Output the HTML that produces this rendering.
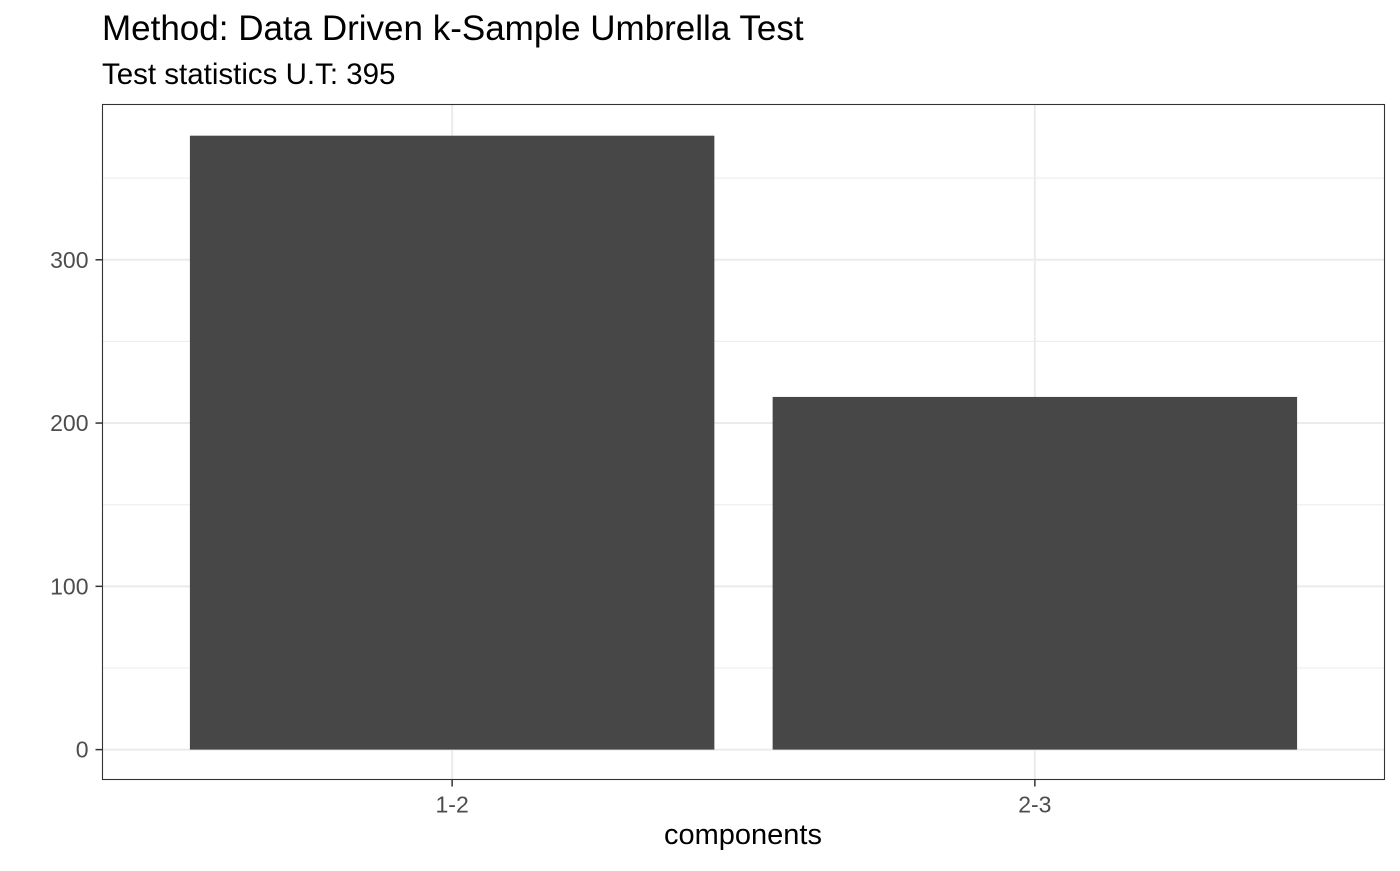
<!DOCTYPE html>
<html><head><meta charset="utf-8"><style>
body{margin:0;background:#fff;}
svg text{font-family:"Liberation Sans",Arial,sans-serif;}
</style></head><body>
<svg id="chart" width="1400" height="866" viewBox="0 0 1400 866" xmlns="http://www.w3.org/2000/svg">
<rect width="1400" height="866" fill="#fff"/>
<text x="102" y="40" font-size="35" fill="#000">Method: Data Driven k-Sample Umbrella Test</text>
<text x="102" y="84" font-size="29.5" fill="#000">Test statistics U.T: 395</text>
<g id="grid"></g>
<g id="bars"></g>
<g id="axes"></g>
<rect x="102.5" y="104.5" width="1282" height="675" fill="none" stroke="#333" stroke-width="1.1"/>
<text x="743" y="844" font-size="29" text-anchor="middle" fill="#000">components</text>
</svg>
<script>
const categories = ["1-2", "2-3"];
const values = [376, 216];
const yTicks = [0, 100, 200, 300];
const yMinor = [50, 150, 250, 350];

const ns = "http://www.w3.org/2000/svg";
const panelL = 102.5, panelR = 1384.5, panelT = 104.5, panelB = 779.5;
const yMin = -18.3, yMax = 395.1;
function y(v){ return panelB - (v - yMin) / (yMax - yMin) * (panelB - panelT); }
const band = (panelR - panelL) / (categories.length + 0.2);
function xc(i){ return panelL + band * (0.6 + i); }
const barW = band * 0.9;

function mk(tag, attrs, parent){
  const e = document.createElementNS(ns, tag);
  for (const k in attrs) e.setAttribute(k, attrs[k]);
  document.getElementById(parent).appendChild(e);
  return e;
}

yMinor.forEach(v => {
  const l = mk("line", {x1: panelL, x2: panelR, y1: y(v), y2: y(v), stroke: "#ebebeb", "stroke-width": 1}, "grid");
  
  
});
yTicks.forEach(v => {
  const l = mk("line", {x1: panelL, x2: panelR, y1: y(v), y2: y(v), stroke: "#ebebeb", "stroke-width": 2}, "grid");
  
  
  const t = mk("line", {x1: panelL - 7, x2: panelL, y1: y(v), y2: y(v), stroke: "#333", "stroke-width": 1.5}, "axes");
  
  
  const tx = mk("text", {x: panelL - 14, y: y(v) + 8, "font-size": 23, "text-anchor": "end", fill: "#4d4d4d"}, "axes");
  tx.textContent = v;
  
  
});
categories.forEach((c, i) => {
  const g = mk("line", {x1: xc(i), x2: xc(i), y1: panelT, y2: panelB, stroke: "#ebebeb", "stroke-width": 2}, "grid");
  
  
  const b = mk("rect", {x: xc(i) - barW / 2, y: y(values[i]), width: barW, height: y(0) - y(values[i]), fill: "#474747"}, "bars");
  
  
  const t = mk("line", {x1: xc(i), x2: xc(i), y1: panelB, y2: panelB + 7, stroke: "#333", "stroke-width": 1.5}, "axes");
  
  
  const tx = mk("text", {x: xc(i), y: panelB + 33, "font-size": 23, "text-anchor": "middle", fill: "#4d4d4d"}, "axes");
  tx.textContent = c;
  
  
});
</script>
</body></html>
